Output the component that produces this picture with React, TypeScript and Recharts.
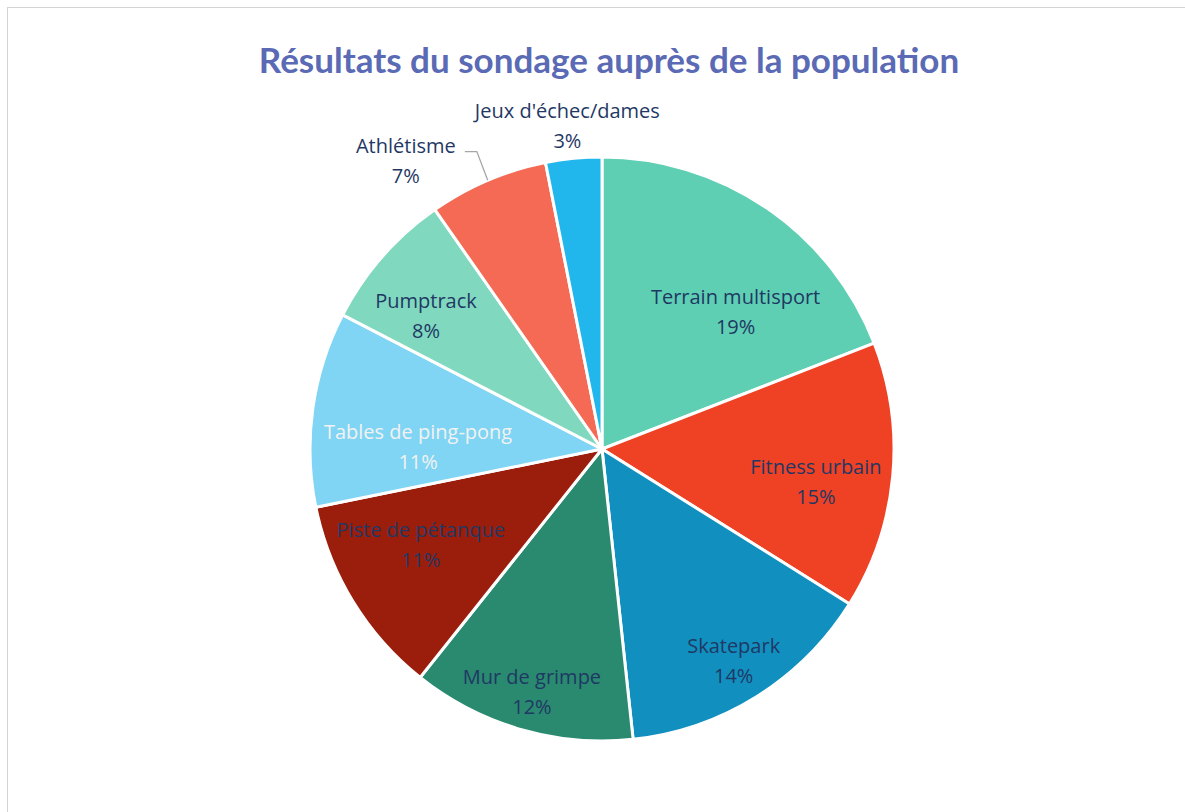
import { PieChart, Pie, Cell } from "recharts"

const categories = [
  "Terrain multisport",
  "Fitness urbain",
  "Skatepark",
  "Mur de grimpe",
  "Piste de pétanque",
  "Tables de ping-pong",
  "Pumptrack",
  "Athlétisme",
  "Jeux d'échec/dames",
]
const shares = [19.1, 14.8, 14.4, 12.4, 11.1, 10.8, 7.7, 6.6, 3.1]

const colors = [
  "#5ecfb2",
  "#ef4124",
  "#1190c0",
  "#2a8a6f",
  "#9b1d0b",
  "#7fd5f3",
  "#80d9be",
  "#f46a54",
  "#22b7ec",
]
// label placement: radius as a fraction of the pie radius, plus a small angle shift (deg)
const labelRadius = [0.66, 0.74, 0.85, 0.86, 0.7, 0.63, 0.76, 1.2, 1.12]
const labelShift = [-9.5, -2.8, 0, 0, -4, 6.7, 3.7, 11, 0.5]
const labelColor = ["#1f3864", "#1f3864", "#1f3864", "#1f3864", "#1f3864", "#f2f2f2", "#1f3864", "#1f3864", "#1f3864"]

const data = categories.map((name, i) => ({ name, value: shares[i] }))
const RAD = Math.PI / 180

function renderLabel(props: any) {
  const { cx, cy, midAngle, outerRadius, index, percent } = props
  const a = (midAngle + labelShift[index]) * RAD
  const r = outerRadius * labelRadius[index]
  const x = cx + r * Math.cos(a)
  const y = cy - r * Math.sin(a)
  const pct = Math.round(percent * 100) + "%"
  let leader = null
  if (index === 7) {
    const ex = cx + outerRadius * Math.cos(midAngle * RAD)
    const ey = cy - outerRadius * Math.sin(midAngle * RAD)
    leader = (
      <polyline
        points={`${x + 59},${y - 7} ${x + 71},${y - 7} ${ex},${ey}`}
        fill="none"
        stroke="#a6a6a6"
        strokeWidth={1.3}
      />
    )
  }
  return (
    <g key={"lbl" + index}>
      {leader}
      <text
        x={x}
        y={y}
        textAnchor="middle"
        fill={labelColor[index]}
        fontFamily="'Open Sans', sans-serif"
        fontSize={20}
      >
        <tspan x={x} dy={-6}>{categories[index]}</tspan>
        <tspan x={x} dy={30}>{pct}</tspan>
      </text>
    </g>
  )
}

export default function App() {
  return (
    <div
      style={{
        position: "fixed",
        left: 7,
        top: 7,
        width: 1178,
        height: 805,
        borderTop: "1px solid #d4d4d4",
        borderLeft: "1px solid #d4d4d4",
        background: "#fff",
      }}
    >
      <div
        style={{
          position: "absolute",
          top: 31,
          left: 0,
          width: 1202,
          textAlign: "center",
          fontFamily: "Lato, sans-serif",
          fontWeight: 700,
          fontSize: 35,
          lineHeight: "40px",
          color: "#5a6ab4",
        }}
      >
        Résultats du sondage auprès de la population
      </div>
      <PieChart width={1178} height={805} margin={{ top: 0, right: 0, bottom: 0, left: 0 }}>
        <Pie
          data={data}
          dataKey="value"
          nameKey="name"
          cx={594}
          cy={441}
          outerRadius={292}
          startAngle={90}
          endAngle={-270}
          stroke="#ffffff"
          strokeWidth={3}
          label={renderLabel}
          labelLine={false}
          isAnimationActive={false}
        >
          {data.map((d, i) => (
            <Cell key={d.name} fill={colors[i]} />
          ))}
        </Pie>
      </PieChart>
    </div>
  )
}
